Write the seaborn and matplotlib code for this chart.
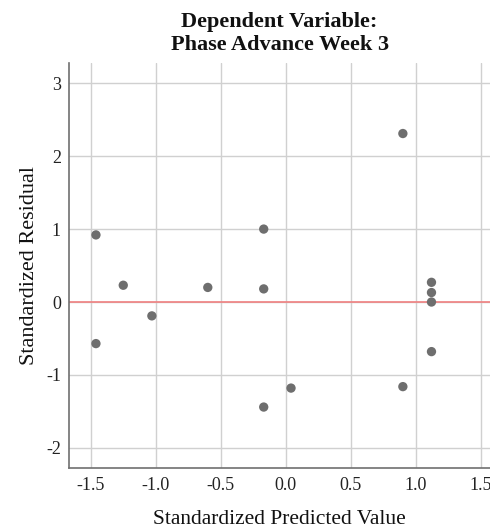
import numpy as np
import pandas as pd
import matplotlib
matplotlib.use("Agg")
import matplotlib.pyplot as plt
import seaborn as sns

# Residual plot data
predicted = [-1.46, -1.46, -1.25, -1.03, -0.60, -0.17, -0.17, -0.17,
             0.04, 0.90, 0.90, 1.12, 1.12, 1.12, 1.12]
residual = [0.92, -0.57, 0.23, -0.19, 0.20, 1.00, 0.18, -1.44,
            -1.18, 2.31, -1.16, 0.27, 0.13, 0.00, -0.68]
x_ticks = [-1.5, -1.0, -0.5, 0.0, 0.5, 1.0, 1.5]
y_ticks = [-2, -1, 0, 1, 2, 3]

df = pd.DataFrame({'pred': predicted, 'resid': residual})

sns.set_theme(style='whitegrid')
plt.rcParams['font.family'] = ['Liberation Serif', 'DejaVu Serif']

fig = plt.figure(figsize=(4.9, 5.32), dpi=100)
ax = fig.add_axes([0.1414, 0.1197, 0.8586, 0.7623])

ax.axhline(0, color='#f08080', lw=1.2, zorder=2)
sns.scatterplot(data=df, x='pred', y='resid', ax=ax, s=45, color='#6e6e6e',
                edgecolor='none', zorder=3)

ax.set_xlim(-1.665, 1.57)
ax.set_ylim(-2.28, 3.28)
ax.set_xticks(x_ticks)
ax.set_xticklabels([f'{v:.1f}' for v in x_ticks])
ax.set_yticks(y_ticks)
ax.set_yticklabels([str(v) for v in y_ticks])
ax.tick_params(axis='both', length=0, labelsize=13, colors='#222222', pad=6)
ax.grid(True, color='#d0d0d0', lw=1)

for side in ['top', 'right']:
    ax.spines[side].set_visible(False)
for side in ['left', 'bottom']:
    ax.spines[side].set_visible(True)
    ax.spines[side].set_color('#707070')
    ax.spines[side].set_linewidth(1.2)

ax.set_xlabel('Standardized Predicted Value', fontsize=15.5, color='#111111', labelpad=12)
ax.set_ylabel('Standardized Residual', fontsize=16, color='#111111', labelpad=5)
ax.set_title('Dependent Variable:\nPhase Advance Week 3', fontsize=16,
             fontweight='bold', color='#111111', pad=9, linespacing=1.2)

fig.savefig('out.png', dpi=100)
